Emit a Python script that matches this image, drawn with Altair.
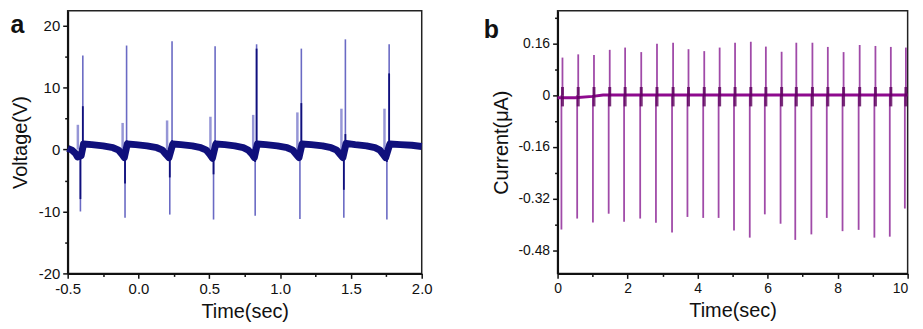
import altair as alt
import pandas as pd

FONT = "Liberation Sans"

# ---------------- panel a : voltage ----------------
a_base_t = [-0.500, -0.470, -0.445, -0.430, -0.405, -0.388, -0.330, -0.250, -0.180, -0.140,
            -0.115, -0.100, -0.079, -0.020, 0.060, 0.130, 0.170, 0.195, 0.215, 0.242,
            0.300, 0.380, 0.440, 0.480, 0.505, 0.522, 0.546, 0.610, 0.680, 0.740,
            0.775, 0.800, 0.818, 0.839, 0.900, 0.980, 1.050, 1.090, 1.115, 1.133,
            1.155, 1.220, 1.300, 1.360, 1.400, 1.425, 1.443, 1.466, 1.530, 1.610,
            1.670, 1.705, 1.728, 1.745, 1.775, 1.850, 1.930, 2.000]
a_base_v = [0.2, -0.1, -0.6, -1.2, -1.0, 0.9, 0.8, 0.6, 0.3, -0.1,
            -0.8, -1.3, 0.9, 0.8, 0.6, 0.3, -0.1, -0.8, -1.3, 0.9,
            0.8, 0.6, 0.3, -0.1, -0.8, -1.4, 0.9, 0.8, 0.6, 0.3,
            -0.1, -0.7, -1.3, 0.9, 0.8, 0.6, 0.3, -0.1, -0.8, -1.3,
            0.9, 0.8, 0.6, 0.3, -0.1, -0.8, -1.3, 1.0, 0.8, 0.6,
            0.3, -0.1, -0.8, -1.3, 0.9, 0.8, 0.7, 0.5]

a_pos_t = [-0.393, -0.084, 0.237, 0.541, 0.834, 1.150, 1.461, 1.770]
a_pos_v = [15.2, 16.8, 17.5, 16.7, 17.0, 16.3, 17.8, 17.0]
a_neg_t = [-0.410, -0.095, 0.221, 0.530, 0.824, 1.140, 1.450, 1.754]
a_neg_v = [-10.0, -11.0, -10.5, -11.3, -10.7, -11.2, -11.0, -11.3]
a_pre_t = [-0.428, -0.112, 0.202, 0.508, 0.810, 1.122, 1.433, 1.737]
a_pre_v = [4.0, 4.3, 4.7, 5.3, 5.6, 6.0, 6.6, 6.6]
a_dark_pos = [7.0, 1.5, 1.5, 1.5, 16.3, 7.5, 2.5, 12.3]
a_dark_neg = [-8.0, -5.5, -4.5, -4.0, -2.0, -1.5, -6.5, -2.0]

a_x_ticks = [-0.5, -0.25, 0.0, 0.25, 0.5, 0.75, 1.0, 1.25, 1.5, 1.75, 2.0]
a_y_ticks = [-20, -15, -10, -5, 0, 5, 10, 15, 20]

# ---------------- panel b : current ----------------
b_t = [0.14, 0.59, 1.04, 1.49, 1.93, 2.39, 2.84, 3.30, 3.74, 4.19, 4.63, 5.07,
       5.52, 5.95, 6.40, 6.82, 7.28, 7.72, 8.17, 8.63, 9.08, 9.52, 9.95]
b_peak = [0.116, 0.126, 0.124, 0.140, 0.147, 0.133, 0.159, 0.162, 0.142, 0.136, 0.147, 0.162,
          0.165, 0.150, 0.134, 0.162, 0.162, 0.149, 0.133, 0.155, 0.152, 0.149, 0.147]
b_trough = [-0.416, -0.382, -0.394, -0.367, -0.392, -0.382, -0.395, -0.425, -0.377, -0.380, -0.380, -0.419,
            -0.441, -0.369, -0.398, -0.448, -0.431, -0.380, -0.421, -0.417, -0.441, -0.438, -0.351]
b_blob = [-0.035, 0.025]
b_base_t = [0.0, 0.5, 1.0, 1.3, 10.0]
b_base_v = [-0.008, -0.008, -0.004, 0.0, 0.0]

b_x_ticks = [0, 1, 2, 3, 4, 5, 6, 7, 8, 9, 10]
b_y_ticks = [-0.48, -0.40, -0.32, -0.24, -0.16, -0.08, 0.0, 0.08, 0.16, 0.24]


def axis(title, values, major_test, label_expr, title_pad, label_size, label_align=None):
    kw = dict(
        title=title, values=values, grid=False,
        labelExpr=f"({major_test}) ? ({label_expr}) : ''",
        tickSize={"condition": {"test": major_test, "value": 5}, "value": 3},
        tickColor="#111", tickWidth=1.5, domainColor="#111", domainWidth=2,
        labelFont=FONT, labelFontSize=label_size, labelColor="#111", labelPadding=3,
        labelOverlap=False, labelFlush=False,
        titleFont=FONT, titleFontSize=20, titleFontWeight="normal", titleColor="#111",
        titlePadding=title_pad,
    )
    if label_align is not None:
        kw["labelAlign"] = label_align
    return alt.Axis(**kw)


MINUS = "'\u2212','-'"

xa = alt.X("t:Q", scale=alt.Scale(domain=[-0.5, 2.0], nice=False, zero=False),
           axis=axis("Time(sec)", a_x_ticks, "abs(datum.value*2 - round(datum.value*2)) < 0.01",
                     f"replace(format(datum.value, '.1f'), {MINUS})", 5, 15))
ya = alt.Y("v:Q", scale=alt.Scale(domain=[-20, 22.4], nice=False, zero=False),
           axis=axis("Voltage(V)", a_y_ticks, "datum.value % 10 == 0",
                     f"replace(format(datum.value, 'd'), {MINUS})", 8, 15))

xb = alt.X("t:Q", scale=alt.Scale(domain=[0, 10], nice=False, zero=False),
           axis=axis("Time(sec)", b_x_ticks, "datum.value % 2 == 0",
                     "format(datum.value, 'd')", 5, 14,
                     {"condition": {"test": "datum.value == 10", "value": "right"}, "value": "center"}))
yb = alt.Y("v:Q", scale=alt.Scale(domain=[-0.5517, 0.2606], nice=False, zero=False),
           axis=axis("Current(\u03bcA)", b_y_ticks,
                     "abs(datum.value/0.16 - round(datum.value/0.16)) < 0.01",
                     f"datum.value == 0 ? '0' : replace(format(datum.value, '.2f'), {MINUS})", 6, 14))

A_LIGHT = "#6a6ac4"
A_DARK = "#10107c"


def rules(ts, vs, x, y, color, width, opacity=1.0):
    df = pd.DataFrame({"t": ts, "v": [0.0] * len(ts), "v2": vs})
    return alt.Chart(df).mark_rule(color=color, strokeWidth=width, opacity=opacity).encode(
        x=x, y=y, y2="v2:Q")


a_pre = rules(a_pre_t, a_pre_v, xa, ya, A_LIGHT, 2.5, 0.7)
a_neg = rules(a_neg_t, a_neg_v, xa, ya, A_LIGHT, 1.6)
a_pos = rules(a_pos_t, a_pos_v, xa, ya, A_LIGHT, 1.6)
a_base = alt.Chart(pd.DataFrame({"t": a_base_t, "v": a_base_v})).mark_line(
    color=A_DARK, strokeWidth=7, strokeJoin="round", strokeCap="butt").encode(x=xa, y=ya)
a_dpos = rules(a_pos_t, a_dark_pos, xa, ya, A_DARK, 1.8)
a_dneg = rules(a_neg_t, a_dark_neg, xa, ya, A_DARK, 1.8)
a_lab = alt.Chart(pd.DataFrame({"label": ["a"]})).mark_text(
    font=FONT, fontSize=25, fontWeight="bold", color="#111", align="center", baseline="alphabetic"
).encode(x=alt.value(-50.5), y=alt.value(22), text="label:N")

panel_a = alt.layer(a_pre, a_neg, a_pos, a_base, a_dpos, a_dneg, a_lab).properties(
    width=356, height=264)

B_LIGHT = "#a04aa8"
B_MAIN = "#8e0a8e"
B_DARK = "#5c005c"

b_neg = rules([t - 0.03 for t in b_t], b_trough, xb, yb, B_LIGHT, 1.8)
b_pos = rules(b_t, b_peak, xb, yb, B_LIGHT, 1.8)
b_base = alt.Chart(pd.DataFrame({"t": b_base_t, "v": b_base_v})).mark_line(
    color=B_MAIN, strokeWidth=3).encode(x=xb, y=yb)
b_blob_df = pd.DataFrame({"t": b_t, "v": [b_blob[0]] * len(b_t), "v2": [b_blob[1]] * len(b_t)})
b_blobs = alt.Chart(b_blob_df).mark_rule(color=B_DARK, strokeWidth=3, opacity=0.8).encode(
    x=xb, y=yb, y2="v2:Q")
b_lab = alt.Chart(pd.DataFrame({"label": ["b"]})).mark_text(
    font=FONT, fontSize=25, fontWeight="bold", color="#111", align="center", baseline="alphabetic"
).encode(x=alt.value(-66.6), y=alt.value(27), text="label:N")

panel_b = alt.layer(b_neg, b_pos, b_base, b_blobs, b_lab).properties(width=352, height=264)

chart = alt.hconcat(panel_a, panel_b, spacing=136.6, bounds="flush").properties(
    padding={"left": 1, "top": 0, "right": 0, "bottom": 0}
).configure_view(stroke="#222", strokeWidth=1.5)

chart.save("out.html", embed_options={"renderer": "svg", "actions": False})
